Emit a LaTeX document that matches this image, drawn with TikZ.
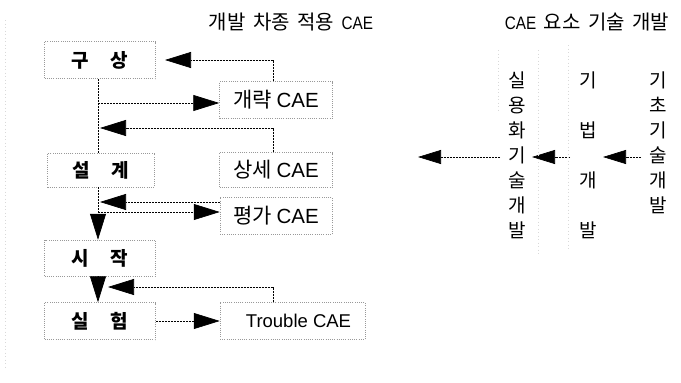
\documentclass[tikz,border=0pt]{standalone}
\usepackage{fontspec}
\setmainfont{Noto Sans CJK KR}
\newfontfamily\lat{Liberation Sans}
\newfontfamily\latn[FakeStretch=0.85]{Liberation Sans}
\usetikzlibrary{arrows.meta}
\newcommand{\cae}{{\lat\fontsize{20.5}{22}\selectfont\mdseries CAE}}
\newcommand{\tcae}{{\latn\fontsize{18}{20}\selectfont CAE}}
\begin{document}
\begin{tikzpicture}[x=1pt,y=-1pt,
  box/.style={draw=black!40, dash pattern=on 1pt off 1.2pt, line width=0.5pt,
    minimum width=111pt, minimum height=37pt, inner sep=0pt,
    font=\fontsize{19}{21}\selectfont\bfseries},
  cbox/.style={box, font=\fontsize{21}{23}\selectfont},
  conn/.style={line width=0.7pt, dash pattern=on 2pt off 1pt},
  arr/.style={conn, -{Triangle[length=26pt,width=16pt]}},
  arrs/.style={conn, -{Triangle[length=23pt,width=14pt]}},
  ttl/.style={font=\fontsize{20}{22}\selectfont, inner sep=0pt},
  col/.style={font=\fontsize{19}{25}\selectfont, align=center, inner sep=0pt},
  faint/.style={draw=black!15, dash pattern=on 1pt off 2.5pt, line width=0.4pt}]
\useasboundingbox (0,0) rectangle (681,383);
\fill[white] (0,0) rectangle (681,383);

% titles
\node[ttl] (t1) at (291,22) {개발\hspace{3pt} 차종\hspace{3pt} 적용\hspace{3pt} \tcae};
\node[ttl] (t2) at (587,22) {\tcae\hspace{3pt} 요소\hspace{3pt} 기술\hspace{3pt} 개발};

% left boxes
\node[box] (gs) at (100,60) {구\hspace{22pt}상};
\node[cbox, minimum width=113pt] (gr) at (276,100) {개략 \cae};
\node[box, minimum width=107pt, minimum height=34pt] (sg) at (101,170) {설\hspace{22pt}계};
\node[cbox, minimum width=113pt, minimum height=35pt] (ss) at (276,170) {상세 \cae};
\node[cbox, minimum width=112pt] (pg) at (276,216) {평가 \cae};
\node[box, minimum height=36pt] (sj) at (100,258) {시\hspace{22pt}작};
\node[box] (sh) at (100,321) {실\hspace{22pt}험};
\node[cbox, minimum width=145pt] (tc) at (292.5,321) {\hspace{12pt}{\lat\fontsize{18.5}{21}\selectfont Trouble CAE}};

% helper coordinates
\coordinate (xa) at (273,0);
\coordinate (b) at (98,103);
\coordinate (gsin) at (165,60);
\coordinate (c) at (100,128);
\coordinate (d1) at (100,202);
\coordinate (d2) at (98,212);
\coordinate (e) at (108,287);

% connectors
\draw[arr] (gr.north -| xa) |- (gsin);
\draw[conn] (gs.south -| b) -- (sg.north -| b);
\draw[arr] (b) -- (b -| gr.west);
\draw[arr] (ss.north -| xa) |- (c);
\draw[arr] (sg.south -| b) -- (sj.north -| b);
\draw[arr] (pg.west |- d1) -- (d1);
\draw[arr] (d2) -- (d2 -| pg.west);
\draw[arr] (sj.south -| b) -- (sh.north -| b);
\draw[arr] (tc.north -| xa) |- (e);
\draw[arr] (sh.east) -- (tc.west);

% right columns
\node[col] (c1) at (517,155) {실\\용\\화\\기\\술\\개\\발};
\node[col, font=\fontsize{19}{50}\selectfont] (c2) at (588,155) {기\\법\\개\\발};
\node[col] (c3) at (658,142.5) {기\\초\\기\\술\\개\\발};

\coordinate (r1s) at (500,157);
\coordinate (r1t) at (418,157);
\coordinate (r2s) at (570,157);
\coordinate (r2t) at (532,157);
\coordinate (r3s) at (641,157);
\coordinate (r3t) at (603,157);
\draw[arrs] (r1s) -- (r1t);
\draw[arrs] (r2s) -- (r2t);
\draw[arrs] (r3s) -- (r3t);

% faint scan lines
\draw[faint] (498,50) -- (498,110);
\draw[faint] (538,50) -- (538,255);
\draw[faint] (568,45) -- (568,250);
\draw[faint] (5,20) -- (5,370);
\end{tikzpicture}
\end{document}
